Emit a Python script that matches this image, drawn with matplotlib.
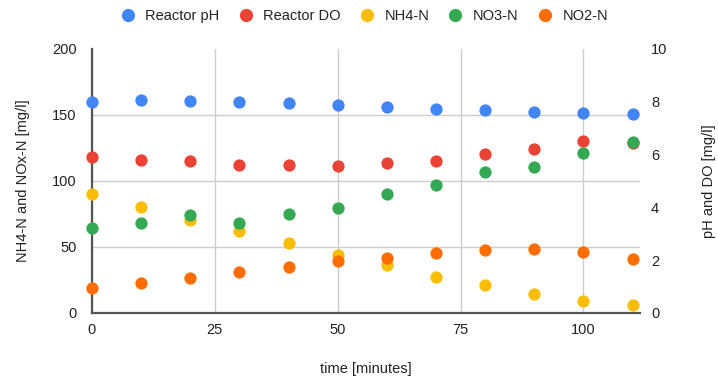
import matplotlib
matplotlib.use("Agg")
from matplotlib import pyplot as plt
from matplotlib.lines import Line2D

plt.rcParams['font.family'] = ['Liberation Sans', 'DejaVu Sans']
plt.rcParams['font.size'] = 10.5

# sampling times [minutes]
time = [0, 10, 20, 30, 40, 50, 60, 70, 80, 90, 100, 110]

# right axis: pH and DO [mg/l]
reactor_ph = [8.01, 8.05, 8.04, 7.99, 7.95, 7.87, 7.82, 7.74, 7.69, 7.60, 7.57, 7.55]
reactor_do = [5.92, 5.81, 5.76, 5.60, 5.62, 5.58, 5.69, 5.75, 6.01, 6.23, 6.53, 6.45]

# left axis: nitrogen species [mg/l]
nh4_n = [90.3, 80.5, 70.7, 61.9, 53.3, 43.8, 36.0, 27.4, 21.4, 14.3, 9.3, 5.8]
no3_n = [64.2, 68.4, 74.0, 68.4, 74.9, 79.7, 90.3, 97.1, 106.6, 110.4, 121.3, 129.8]
no2_n = [19.1, 22.4, 26.4, 30.7, 34.7, 39.2, 42.0, 45.8, 48.0, 48.3, 46.3, 41.0]

left_ticks = [0, 50, 100, 150, 200]
right_ticks = [0, 2, 4, 6, 8, 10]
x_ticks = [0, 25, 50, 75, 100]

colors = {
    'Reactor pH': '#4285F4',
    'Reactor DO': '#EA4335',
    'NH4-N': '#FBBC04',
    'NO3-N': '#34A853',
    'NO2-N': '#FF6D01',
}
grid_col = '#cccccc'
axis_col = '#555555'
text_col = '#222222'
msize = 78

fig = plt.figure(figsize=(7.18, 3.83), dpi=100)
ax = fig.add_axes([92 / 718, 70 / 383, 548 / 718, 264 / 383])
ax2 = ax.twinx()
# left-axis series sit above the right-axis ones
ax.set_zorder(ax2.get_zorder() + 1)
ax.patch.set_visible(False)

ax.set_xlim(0, 111.5)
ax.set_ylim(0, 200)
ax2.set_ylim(0, 10)

# pH / DO on the right scale
ax2.scatter(time, reactor_ph, s=msize, color=colors['Reactor pH'], lw=0, zorder=3, clip_on=False)
ax2.scatter(time, reactor_do, s=msize, color=colors['Reactor DO'], lw=0, zorder=3, clip_on=False)

# nitrogen species on the left scale
ax.scatter(time, nh4_n, s=msize, color=colors['NH4-N'], lw=0, zorder=3, clip_on=False)
ax.scatter(time, no3_n, s=msize, color=colors['NO3-N'], lw=0, zorder=3, clip_on=False)
ax.scatter(time, no2_n, s=msize, color=colors['NO2-N'], lw=0, zorder=3, clip_on=False)

# ticks and labels
ax.set_yticks(left_ticks)
ax.set_xticks(x_ticks)
ax.tick_params(axis='y', length=0, pad=11, colors=text_col)
ax.tick_params(axis='x', length=0, pad=7, colors=text_col)
ax2.set_yticks(right_ticks)
ax2.tick_params(axis='y', length=0, pad=8, colors=text_col)

# grid lines live on the bottom axes so every marker is drawn over them
ax2.set_yticks([t / 20 for t in left_ticks], minor=True)
ax2.tick_params(axis='y', which='minor', length=0)
ax2.grid(axis='y', which='minor', color=grid_col, lw=1)
ax2.xaxis.set_visible(True)
ax2.tick_params(axis='x', bottom=False, top=False, labelbottom=False, labeltop=False)
ax2.grid(axis='x', which='major', color=grid_col, lw=1)

for sp in ax.spines.values():
    sp.set_visible(False)
for name, sp in ax2.spines.items():
    if name in ('left', 'bottom'):
        sp.set_color(axis_col)
        sp.set_linewidth(1.6)
    else:
        sp.set_visible(False)

ax.set_ylabel('NH4-N and NOx-N [mg/l]', color=text_col, labelpad=16)
ax2.set_ylabel('pH and DO [mg/l]', color=text_col, rotation=90, labelpad=25)
ax.set_xlabel('time [minutes]', color=text_col, labelpad=18)

handles = [Line2D([], [], ls='', marker='o', ms=9.5, mew=0, color=c) for c in colors.values()]
fig.legend(handles, list(colors.keys()), loc='upper center', bbox_to_anchor=(0.505, 1.01),
           ncol=5, frameon=False, handletextpad=0.5, columnspacing=1.1,
           handlelength=1.4, labelcolor=text_col)

fig.savefig('out.png', dpi=100)
